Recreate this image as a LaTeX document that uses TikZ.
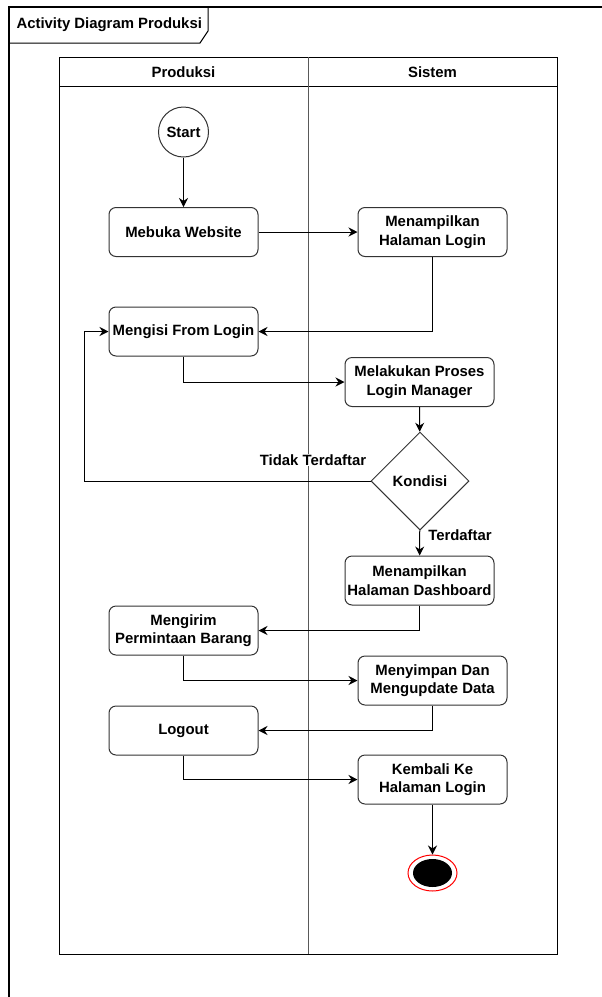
\documentclass[tikz,border=0pt]{standalone}
\usepackage{fontspec}
\setmainfont{Liberation Sans}
\usetikzlibrary{shapes,arrows.meta}

\begin{document}
\begin{tikzpicture}[x=1pt, y=-1pt, line width=1pt, font=\fontsize{14.9}{18.5}\selectfont\bfseries]
\tikzstyle{vertexr}=[rectangle, rounded corners=7pt, draw=black!80, line width=1pt, minimum width=149pt, minimum height=49pt, inner sep=1pt, align=center]
\tikzstyle{vertexc}=[circle, draw=black!80, line width=1pt, minimum size=50pt, inner sep=0pt]
\tikzstyle{vertexd}=[diamond, aspect=1, draw=black!80, line width=1pt, minimum width=98pt, minimum height=98pt, inner sep=0pt]
\tikzstyle{drawstyle}=[line width=1pt, -{Stealth[length=9pt, width=9pt]}]
\tikzstyle{labelstyle}=[fill=white, inner sep=1pt]

\useasboundingbox (0,0) rectangle (602,997);
% frame
\draw[line width=1.2pt] (602,7) -- (9,7) -- (9,997);
\draw (9,43) -- (200,43) -- (208,31) -- (208,7);
\node[anchor=west, inner sep=0pt] (T0) at (16,25) {Activity Diagram Produksi};

% pool
\draw (59,57) rectangle (557,954);
\draw (59,86) -- (557,86);
\draw[black!65] (308,57) -- (308,954);
\node (H0) at (183.5,72) {Produksi};
\node (H1) at (432.5,72) {Sistem};

\node[vertexc] (Px0) at (183.5,132) {Start};
\node[vertexr] (Px1) at (183.5,232) {Mebuka Website};
\draw[drawstyle] (Px0) -- (Px1);
\node[vertexr] (Sx1) at (432.5,232) {Menampilkan\\Halaman Login};
\draw[drawstyle] (Px1) -- (Sx1);
\node[vertexr] (Px2) at (183.5,331.5) {Mengisi From Login};
\draw[drawstyle] (Sx1.south) |- (Px2.east);
\node[vertexr] (Sx2) at (419.5,382) {Melakukan Proses\\Login Manager};
\draw[drawstyle] (Px2.south) |- (Sx2.west);
\node[vertexd] (Sx3) at (420,481) {Kondisi};
\draw[drawstyle] (Sx2) -- (Sx3);
\coordinate (C0) at (84,481);
\draw[drawstyle] (Sx3.west) -- (C0) |- (Px2.west);
\node[labelstyle] (L0) at (313,460) {Tidak Terdaftar};
\node[vertexr] (Sx4) at (419.5,580.5) {Menampilkan\\Halaman Dashboard};
\draw[drawstyle] (Sx3) -- (Sx4);
\node[labelstyle] (L1) at (460,535) {Terdaftar};
\node[vertexr] (Px4) at (183.5,630.5) {Mengirim\\Permintaan Barang};
\draw[drawstyle] (Sx4.south) |- (Px4.east);
\node[vertexr] (Sx5) at (432.5,680.5) {Menyimpan Dan\\Mengupdate Data};
\draw[drawstyle] (Px4.south) |- (Sx5.west);
\node[vertexr] (Px5) at (183.5,730.5) {Logout};
\draw[drawstyle] (Sx5.south) |- (Px5.east);
\node[vertexr] (Sx6) at (432.5,779.5) {Kembali Ke\\Halaman Login};
\draw[drawstyle] (Px5.south) |- (Sx6.west);
\node[ellipse, draw=red, fill=white, line width=1pt, minimum width=49pt, minimum height=36pt] (Sx7) at (432.5,873) {};
\node[ellipse, fill=black, minimum width=39pt, minimum height=28pt] (Sx7i) at (Sx7) {};
\draw[drawstyle] (Sx6) -- (Sx7);
\end{tikzpicture}
\end{document}
